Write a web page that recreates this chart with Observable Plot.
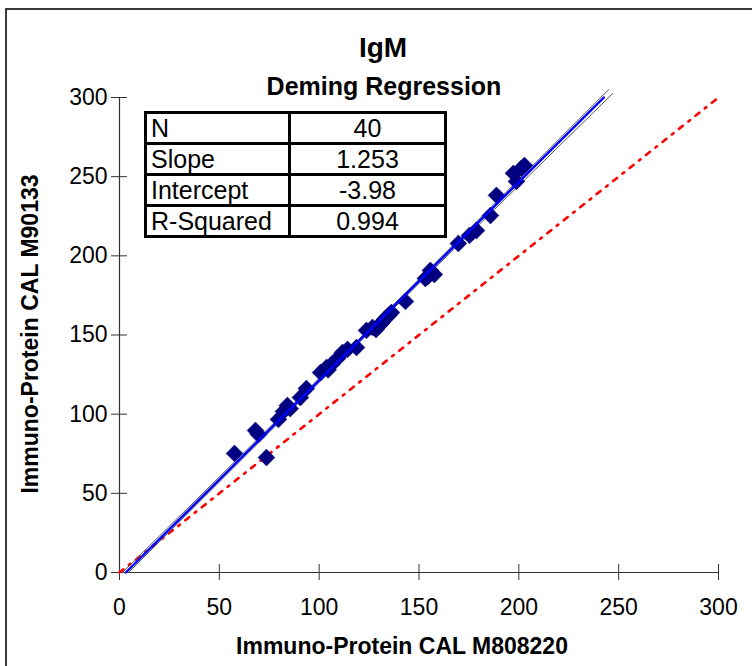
<!DOCTYPE html>
<html>
<head>
<meta charset="utf-8">
<script src="https://cdn.jsdelivr.net/npm/d3@7"></script>
<script src="https://cdn.jsdelivr.net/npm/@observablehq/plot@0.6"></script>
<style>
  html, body { margin: 0; padding: 0; background: #fff; overflow: hidden; }
  #wrap { position: relative; width: 752px; height: 666px; font-family: "Liberation Sans", Arial, sans-serif; overflow: hidden; }
  #wrap svg { position: absolute; left: 0; top: 0; }
  .frame { position: absolute; left: 5px; top: 8px; width: 800px; height: 700px; border: 2px solid #3a3a3a; box-sizing: border-box; }
  .t { position: absolute; font-weight: bold; color: #000; white-space: nowrap; }
  table.stats { position: absolute; left: 144px; top: 111px; border-collapse: collapse; font-size: 25px; }
  table.stats td { border: 3px solid #000; height: 28px; padding: 0 4px; line-height: 28px; }
  table.stats td.k { width: 133px; text-align: left; }
  table.stats td.v { width: 145px; text-align: center; }
</style>
</head>
<body>
<div id="wrap"></div>
<script>
// ---- data ----
const xVals = [57.6, 68.1, 69.6, 73.6, 79.6, 82.1, 84.1, 85.5, 90.6, 93.6,
               100.7, 103.7, 106.2, 109.2, 111.7, 114.2, 118.7, 123.7, 126.7, 128.5,
               130.7, 132.7, 134.7, 136.2, 143.2, 153.2, 155.7, 157.7, 169.7, 175.3,
               178.8, 185.8, 188.8, 197.3, 198.8, 201.3, 202.8, 104.5, 154.5, 131.5];
const yVals = [75.2, 89.7, 87.2, 72.6, 96.7, 101.7, 105.5, 103.5, 110.5, 116.2,
               126.3, 129.5, 131.4, 135.2, 139.0, 140.9, 142.1, 152.9, 154.8, 153.5,
               156.7, 159.8, 162.3, 164.2, 171.2, 185.7, 190.8, 188.2, 207.8, 212.9,
               216.0, 225.5, 238.2, 252.1, 247.0, 255.2, 257.1, 128.0, 187.0, 158.0];
const statLabels = ["N", "Slope", "Intercept", "R-Squared"];
const statValues = ["40", "1.253", "-3.98", "0.994"];
const slope = 1.253, intercept = -3.98;
// regression line end points (x range of drawn fit)
const fitX = [3.18, 242.6];
// confidence band lines
const upperBandX = [1.5, 130, 245];
const upperBandY = [0.0, 160.0, 305.0];
const lowerBandX = [4.5, 130, 247];
const lowerBandY = [0.0, 157.8, 302.5];
// identity line
const identX = [0, 300];
const xTicks = [0, 50, 100, 150, 200, 250, 300];
const yTicks = [0, 50, 100, 150, 200, 250, 300];

const points = xVals.map((x, i) => ({x, y: yVals[i]}));
const fit = fitX.map(x => ({x, y: slope * x + intercept}));
const upper = upperBandX.map((x, i) => ({x, y: upperBandY[i]}));
const lower = lowerBandX.map((x, i) => ({x, y: lowerBandY[i]}));
const ident = identX.map(x => ({x, y: x}));

const axisColor = "#333";
const plot = Plot.plot({
  width: 752, height: 666,
  marginLeft: 119, marginRight: 34, marginTop: 97, marginBottom: 94,
  style: {fontFamily: "'Liberation Sans', Arial, sans-serif", background: "transparent", overflow: "visible"},
  x: {domain: [0, 300]},
  y: {domain: [0, 300]},
  marks: [
    Plot.axisX(xTicks, {tickSize: 8, tickPadding: 18, fontSize: 23, stroke: axisColor, color: "#000", label: null}),
    Plot.axisY(yTicks, {tickSize: 8, tickPadding: 4, fontSize: 23, stroke: axisColor, color: "#000", label: null}),
    Plot.tickX(xTicks, {x: d => d, insetTop: 467, stroke: axisColor}),
    Plot.tickY(yTicks, {y: d => d, insetRight: 591, stroke: axisColor}),
    Plot.ruleX([0], {stroke: axisColor, strokeWidth: 1.2}),
    Plot.ruleY([0], {stroke: axisColor, strokeWidth: 1.2}),
    Plot.line(ident, {x: "x", y: "y", stroke: "#ff0000", strokeWidth: 2.6, strokeDasharray: "5,7,2,7"}),
    Plot.line(upper, {x: "x", y: "y", stroke: "#555", strokeWidth: 1}),
    Plot.line(lower, {x: "x", y: "y", stroke: "#555", strokeWidth: 1}),
    Plot.dot(points, {x: "x", y: "y", symbol: "diamond2", r: 7.6, fill: "#000080", stroke: "#000066", strokeWidth: 0.5}),
    Plot.line(fit, {x: "x", y: "y", stroke: "#0000ff", strokeWidth: 2.4})
  ]
});

const wrap = document.getElementById("wrap");
wrap.appendChild(plot);

function addText(txt, css) {
  const d = document.createElement("div");
  d.className = "t";
  d.textContent = txt;
  Object.assign(d.style, css);
  wrap.appendChild(d);
  return d;
}
addText("IgM", {left: "383px", top: "32px", fontSize: "28px", transform: "translateX(-50%)"});
addText("Deming Regression", {left: "384px", top: "72px", fontSize: "25px", transform: "translateX(-50%)"});
addText("Immuno-Protein CAL M808220", {left: "402px", top: "633px", fontSize: "23px", transform: "translateX(-50%)"});
addText("Immuno-Protein CAL M90133", {left: "30px", top: "334px", fontSize: "23px", transform: "translate(-50%, -50%) rotate(-90deg)"});

const tbl = document.createElement("table");
tbl.className = "stats";
statLabels.forEach((k, i) => {
  const tr = document.createElement("tr");
  const a = document.createElement("td"); a.className = "k"; a.textContent = k;
  const b = document.createElement("td"); b.className = "v"; b.textContent = statValues[i];
  tr.appendChild(a); tr.appendChild(b); tbl.appendChild(tr);
});
wrap.appendChild(tbl);

const fr = document.createElement("div");
fr.className = "frame";
wrap.appendChild(fr);
</script>
</body>
</html>
